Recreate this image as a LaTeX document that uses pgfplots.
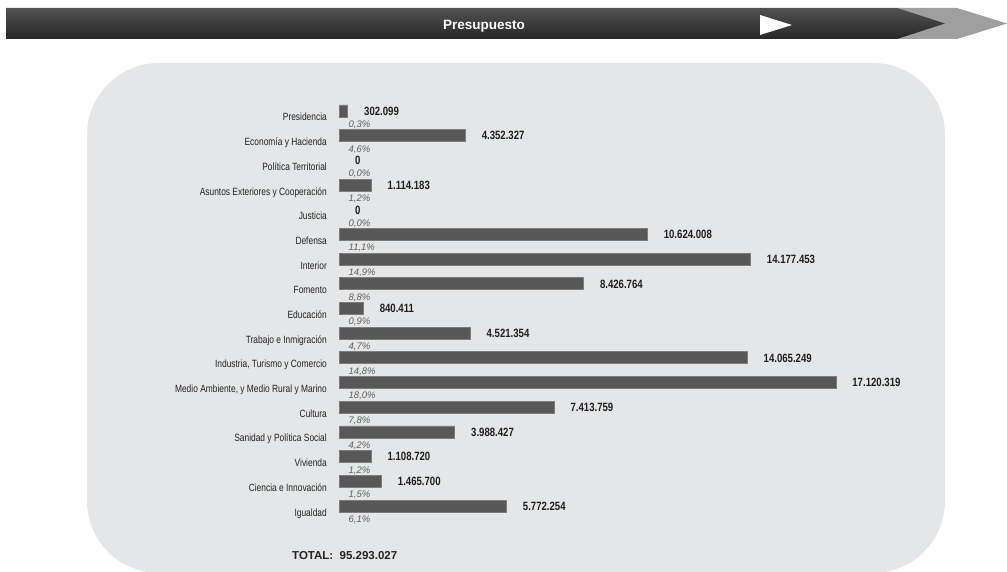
\documentclass[border=0pt]{standalone}
\usepackage{pgfplots}
\pgfplotsset{compat=1.18}
\usepackage{fontspec}
\setmainfont{Liberation Sans}
\newfontfamily\narrowfont{Liberation Sans}[FakeStretch=0.8]

\definecolor{panel}{RGB}{229,230,231}
\definecolor{barfill}{RGB}{88,88,88}
\definecolor{baredge}{RGB}{125,125,125}
\definecolor{labeltext}{RGB}{35,35,35}
\definecolor{pcttext}{RGB}{95,95,95}

\tikzset{valuelabel/.style={anchor=base west, inner sep=0pt,
    xshift=16pt, yshift=-4.3pt, text=black!88,
    font=\narrowfont\bfseries\fontsize{12}{14}\selectfont}}

\begin{document}
\begin{tikzpicture}[x=1pt,y=1pt]
\path[use as bounding box] (0,0) rectangle (1007,571);

% banner
\fill[gray!75] (897,563) -- (957,563) -- (1007,547.5) -- (957,532) -- (897,532) -- cycle;
\shade[top color=black!68, bottom color=black!85]
  (6,563) -- (897,563) -- (945,547.5) -- (897,532) -- (6,532) -- cycle;
\fill[white] (760,556) -- (792,546) -- (760,536) -- cycle;
\node[anchor=base, text=white, font=\bfseries\fontsize{13.5}{15}\selectfont, inner sep=0pt]
  at (484,541) {Presupuesto};

% panel
\fill[panel, rounded corners=72pt] (87,-2) rectangle (945,508);

\begin{axis}[
    at={(339pt,472.35pt)}, anchor=north west,
    scale only axis,
    width=580.6pt, height=419.7pt,
    xmin=0, xmax=20000000,
    ymin=-0.5, ymax=16.5,
    y dir=reverse,
    clip=false,
    axis line style={draw=none},
    tick style={draw=none},
    major tick length=0pt,
    xtick=\empty,
    ytick={0,...,16},
    yticklabels={Presidencia, Economía y Hacienda, Política Territorial,
      Asuntos Exteriores y Cooperación, Justicia, Defensa, Interior, Fomento,
      Educación, Trabajo e Inmigración, {Industria, Turismo y Comercio},
      {Medio Ambiente, y Medio Rural y Marino}, Cultura,
      Sanidad y Política Social, Vivienda, Ciencia e Innovación, Igualdad},
    yticklabel style={anchor=base east, inner sep=0pt, xshift=-12pt, yshift=-10pt,
      text=labeltext, font=\narrowfont\fontsize{10.5}{12}\selectfont},
    ]

% budget per ministry
\addplot[xbar, bar shift=0pt, bar width=12pt, fill=barfill, draw=baredge, line width=0.8pt,
    point meta=explicit symbolic, nodes near coords,
    every node near coord/.append style={valuelabel}]
  coordinates {
    (302099,0) [302.099]
    (4352327,1) [4.352.327]
    (1114183,3) [1.114.183]
    (10624008,5) [10.624.008]
    (14177453,6) [14.177.453]
    (8426764,7) [8.426.764]
    (840411,8) [840.411]
    (4521354,9) [4.521.354]
    (14065249,10) [14.065.249]
    (17120319,11) [17.120.319]
    (7413759,12) [7.413.759]
    (3988427,13) [3.988.427]
    (1108720,14) [1.108.720]
    (1465700,15) [1.465.700]
    (5772254,16) [5.772.254]
  };

% ministries with no budget
\addplot[xbar, bar shift=0pt, bar width=0pt, draw=none, fill=none,
    point meta=explicit symbolic, nodes near coords,
    every node near coord/.append style={valuelabel}]
  coordinates {
    (0,2) [0]
    (0,4) [0]
  };

% share of total
\addplot[xbar, bar shift=0pt, bar width=0pt, draw=none, fill=none,
    point meta=explicit symbolic, nodes near coords,
    every node near coord/.append style={anchor=base west, inner sep=0pt,
      xshift=9.5pt, yshift=-16.4pt, text=pcttext,
      font=\itshape\fontsize{9.5}{11}\selectfont}]
  coordinates {
    (0,0) [0,3\%]
    (0,1) [4,6\%]
    (0,2) [0,0\%]
    (0,3) [1,2\%]
    (0,4) [0,0\%]
    (0,5) [11,1\%]
    (0,6) [14,9\%]
    (0,7) [8,8\%]
    (0,8) [0,9\%]
    (0,9) [4,7\%]
    (0,10) [14,8\%]
    (0,11) [18,0\%]
    (0,12) [7,8\%]
    (0,13) [4,2\%]
    (0,14) [1,2\%]
    (0,15) [1,5\%]
    (0,16) [6,1\%]
  };
\end{axis}

\node[anchor=base west, inner sep=0pt, text=labeltext,
  font=\bfseries\fontsize{11.5}{13}\selectfont] at (292,12) {TOTAL:\ \ 95.293.027};
\end{tikzpicture}
\end{document}
